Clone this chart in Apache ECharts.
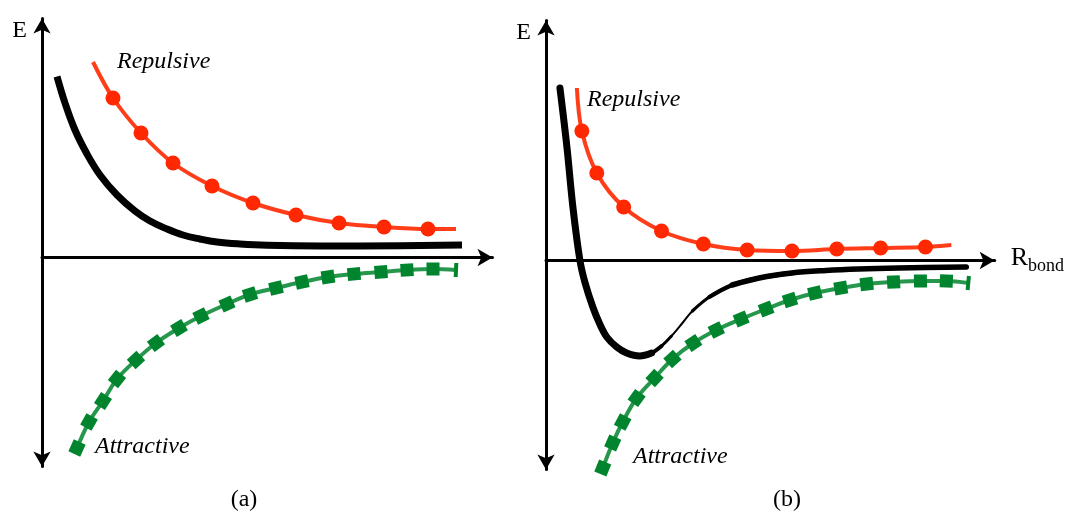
<!DOCTYPE html>
<html>
<head>
<meta charset="utf-8">
<script src="https://cdn.jsdelivr.net/npm/echarts@6/dist/echarts.min.js"></script>
<style>
html,body{margin:0;padding:0;background:#ffffff;}
#chart{width:1067px;height:519px;}
</style>
</head>
<body>
<div id="chart"></div>
<script>
// ---------- Panel (a): schematic energy curves (axis units) ----------
const aTotalX = [1.5, 2.3, 3.3, 4.5, 5.8, 7.5, 9.3, 10.8, 12.5, 14.1, 15.8, 17.5, 19.8, 22.5, 27.8, 35.8, 42.0];
const aTotalY = [18.1, 15.45, 12.75, 10.35, 8.25, 6.25, 4.65, 3.65, 2.85, 2.25, 1.85, 1.55, 1.35, 1.22, 1.15, 1.18, 1.25];

const aRepX = [5.1, 7.1, 9.9, 13.1, 17.0, 21.1, 25.4, 29.7, 34.2, 38.6, 41.4];
const aRepY = [19.55, 15.95, 12.45, 9.45, 7.15, 5.45, 4.25, 3.45, 3.05, 2.85, 2.85];

const aAttX = [3.5, 4.7, 6.1, 7.5, 9.4, 11.4, 13.7, 15.9, 18.5, 20.8, 23.4, 26.0, 28.6, 31.2, 33.9, 36.5, 39.1, 41.4];
const aAttY = [-19.05, -16.45, -14.35, -12.15, -10.25, -8.55, -7.05, -5.85, -4.65, -3.7, -3.05, -2.45, -1.95, -1.65, -1.45, -1.25, -1.15, -1.25];

// ---------- Panel (b) ----------
const bTotalX = [1.4, 2.1, 2.7, 3.4, 3.9, 4.7, 5.4, 6.1, 7.1, 8.1, 9.4, 10.6, 11.6, 12.6, 13.7, 14.7, 16.4, 18.7, 21.4, 24.7, 28.1, 31.4, 35.4, 42.2];
const bTotalY = [17.25, 11.35, 5.35, 0.05, -2.15, -4.65, -6.35, -7.65, -8.65, -9.25, -9.55, -9.25, -8.55, -7.55, -6.25, -5.05, -3.65, -2.45, -1.75, -1.25, -1.0, -0.85, -0.75, -0.65];

const bRepX = [3.1, 3.6, 5.1, 7.8, 11.6, 15.8, 20.2, 24.7, 29.2, 33.6, 38.1, 40.7];
const bRepY = [17.25, 12.95, 8.75, 5.35, 2.95, 1.65, 1.05, 0.95, 1.15, 1.25, 1.35, 1.55];

const bAttX = [5.7, 6.7, 7.7, 9.1, 10.9, 12.7, 14.8, 17.1, 19.6, 22.1, 24.5, 27.0, 29.6, 32.2, 34.9, 37.6, 40.2, 42.4];
const bAttY = [-20.75, -18.25, -16.15, -13.75, -11.75, -9.85, -8.25, -6.95, -5.85, -4.85, -3.95, -3.25, -2.75, -2.35, -2.15, -2.05, -2.05, -2.25];

// Texts
const panelLabels = ['(a)', '(b)'];
const curveLabels = ['Repulsive', 'Attractive'];
const yName = 'E';
const xNameMain = 'R';
const xNameSub = 'bond';

// ---------- styling ----------
const RED = 'rgb(255,40,0)';
const GREEN = 'rgb(0,133,46)';
const SERIF = '"Liberation Serif", "Times New Roman", serif';

function pairs(xs, ys) { return xs.map((x, i) => [x, ys[i]]); }

function tangentDeg(xs, ys, i) {
  const a = Math.max(0, i - 1), b = Math.min(xs.length - 1, i + 1);
  return Math.atan2(ys[b] - ys[a], xs[b] - xs[a]) * 180 / Math.PI;
}

function blackSeries(xs, ys, gi, width, from, to, cap, smooth) {
  const d = pairs(xs, ys).slice(from, to);
  return {
    type: 'line', xAxisIndex: gi, yAxisIndex: gi, data: d, smooth: smooth || 0.35,
    symbol: 'none', clip: false, z: 3,
    lineStyle: { color: '#000', width: width, cap: cap || 'butt', join: 'round' }
  };
}

function repSeries(xs, ys, gi) {
  const n = xs.length;
  const d = xs.map((x, i) => ({
    value: [x, ys[i]],
    symbol: (i === 0 || i === n - 1) ? 'none' : 'circle'
  }));
  return {
    type: 'line', xAxisIndex: gi, yAxisIndex: gi, data: d, smooth: 0.35,
    symbolSize: 15, showAllSymbol: true, clip: false, z: 4,
    lineStyle: { color: RED, width: 4, opacity: 0.9 },
    itemStyle: { color: RED }
  };
}

function attSeries(xs, ys, gi) {
  const n = xs.length;
  const d = xs.map((x, i) => ({
    value: [x, ys[i]],
    symbol: 'rect',
    symbolRotate: tangentDeg(xs, ys, i),
    symbolSize: i === n - 1 ? [4, 14] : 13
  }));
  return {
    type: 'line', xAxisIndex: gi, yAxisIndex: gi, data: d, smooth: 0.35,
    showAllSymbol: true, clip: false, z: 4,
    lineStyle: { color: GREEN, width: 4, opacity: 0.85 },
    itemStyle: { color: GREEN }
  };
}

const axisLineStyle = { color: '#000', width: 3 };

function xAx(gi, max, named) {
  const ax = {
    type: 'value', gridIndex: gi, min: 0, max: max,
    axisLine: { show: true, onZero: true, symbol: ['none', 'arrow'], symbolSize: [13, 15], lineStyle: axisLineStyle },
    axisTick: { show: false }, axisLabel: { show: false }, splitLine: { show: false }
  };
  if (named) {
    ax.name = '{r|' + xNameMain + '}{s|' + xNameSub + '}';
    ax.nameLocation = 'end';
    ax.nameGap = 16;
    ax.nameTextStyle = {
      rich: {
        r: { fontFamily: SERIF, fontSize: 26, color: '#000', verticalAlign: 'bottom', padding: [0, 0, 4, 0] },
        s: { fontFamily: SERIF, fontSize: 18, color: '#000', verticalAlign: 'bottom' }
      }
    };
  }
  return ax;
}

function yAx(gi, min, max) {
  return {
    type: 'value', gridIndex: gi, min: min, max: max,
    name: yName, nameLocation: 'end', nameGap: -12.5,
    nameTextStyle: { fontFamily: SERIF, fontSize: 24, color: '#000', align: 'right', verticalAlign: 'middle', padding: [0, 15, 0, 0] },
    axisLine: { show: true, onZero: false, symbol: ['arrow', 'arrow'], symbolSize: [13, 15], lineStyle: axisLineStyle },
    axisTick: { show: false }, axisLabel: { show: false }, splitLine: { show: false }
  };
}

function txt(t, x, y, italic, align) {
  return {
    type: 'text', x: x, y: y, z: 10,
    style: { text: t, font: (italic ? 'italic ' : '') + '24px ' + SERIF, fill: '#000', align: align || 'left', verticalAlign: 'middle' }
  };
}

const chart = echarts.init(document.getElementById('chart'));
const nB = bTotalX.length;
chart.setOption({
  animation: false,
  backgroundColor: '#ffffff',
  grid: [
    { left: 42, top: 18.5, width: 450.5, height: 448 },
    { left: 546, top: 20.5, width: 450.5, height: 449 }
  ],
  xAxis: [xAx(0, 45.05, false), xAx(1, 45.05, true)],
  yAxis: [yAx(0, -20.9, 23.9), yAx(1, -20.9, 24.0)],
  series: [
    blackSeries(aTotalX, aTotalY, 0, 7, 0, aTotalX.length, 'butt', 0.4),
    repSeries(aRepX, aRepY, 0),
    attSeries(aAttX, aAttY, 0),
    // panel (b) total curve: thin full path with thicker overlays (tapered look)
    blackSeries(bTotalX, bTotalY, 1, 2, 0, nB),
    blackSeries(bTotalX, bTotalY, 1, 7, 0, 12, 'round'),
    blackSeries(bTotalX, bTotalY, 1, 4, 10, 13, 'round'),
    blackSeries(bTotalX, bTotalY, 1, 2.8, 11, 14, 'round'),
    blackSeries(bTotalX, bTotalY, 1, 3.2, 15, 18, 'round'),
    blackSeries(bTotalX, bTotalY, 1, 4.3, 16, 20, 'round'),
    blackSeries(bTotalX, bTotalY, 1, 5.5, 17, nB, 'round'),
    repSeries(bRepX, bRepY, 1),
    attSeries(bAttX, bAttY, 1)
  ],
  graphic: [
    txt(curveLabels[0], 117, 62, true),
    txt(curveLabels[1], 95, 447, true),
    txt(curveLabels[0], 587, 100, true),
    txt(curveLabels[1], 633, 457, true),
    txt(panelLabels[0], 244, 500, false, 'center'),
    txt(panelLabels[1], 787, 500, false, 'center')
  ]
});
</script>
</body>
</html>
